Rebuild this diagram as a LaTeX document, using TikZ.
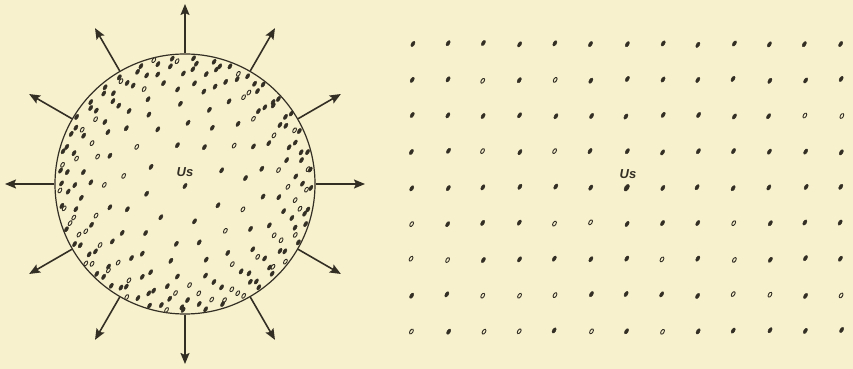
\documentclass[tikz,border=0pt]{standalone}
\usepackage{fontspec}
\setsansfont{Liberation Sans}
\usetikzlibrary{arrows.meta,calc}
\definecolor{bg}{RGB}{247,241,206}
\definecolor{ink}{RGB}{52,47,36}
\tikzset{
  dotfill/.style={fill=ink,draw=ink,line width=0.4pt},
  dothollow/.style={draw=ink,line width=0.9pt,fill=bg},
  rayarrow/.style={-{Stealth[length=11pt,width=9pt,inset=2pt]},line width=1.6pt,draw=ink},
  rim/.style={circle,draw=ink,line width=1.2pt,inner sep=0pt,minimum size=260pt},
  uslabel/.style={font=\sffamily\itshape\bfseries\fontsize{13}{13}\selectfont,text=ink,inner sep=0pt}
}
\newcommand{\inkdot}[3]{% x, y, hollow flag
  \ifnum#3=1
    \draw[dothollow,rotate around={58:(#1,#2)}] (#1,#2) ellipse (2.7pt and 1.5pt);
  \else
    \fill[dotfill,rotate around={58:(#1,#2)}] (#1,#2) ellipse (3.0pt and 1.6pt);
  \fi}
\begin{document}
\begin{tikzpicture}[x=1pt,y=1pt]
\fill[bg] (0,0) rectangle (853,369);
\useasboundingbox (0,0) rectangle (853,369);
% ---------- left: sphere ----------
\coordinate (C) at (185,185);
\node[rim] (disk) at (C) {};
\foreach \a in {0,30,...,330}{
  \coordinate (tip\a) at ($(C)+(\a:180pt)$);
  \draw[rayarrow] (disk.\a) -- (tip\a);
}
\pgfmathsetseed{4321}
\foreach \r/\n in {40/8,62/13,80/17,93/21,103/25,111/29,117/33,122/37,126/41}{
  \pgfmathsetmacro\off{rnd*360}
  \foreach \k in {1,...,\n}{
    \pgfmathsetmacro\ang{\off+\k*360/\n+(rnd-0.5)*120/\n}
    \pgfmathsetmacro\rr{\r+(rnd-0.5)*4}
    \pgfmathsetmacro\px{185+\rr*cos(\ang)}
    \pgfmathsetmacro\py{185+\rr*sin(\ang)}
    \pgfmathtruncatemacro\hol{rnd<0.3}
    \inkdot{\px}{\py}{\hol}
  }
}
\inkdot{185}{183}{0}
\node[uslabel] (usL) at (185,197) {Us};
% ---------- right: uniform grid ----------
\foreach \j in {0,...,8}{
  \foreach \i in {0,...,12}{
    \pgfmathsetmacro\px{412+35.75*\i+(rnd-0.5)*2}
    \pgfmathsetmacro\py{325-35.85*\j+(rnd-0.5)*2}
    \pgfmathtruncatemacro\hol{rnd<(0.06+0.04*\j)}
    \ifnum\i=6 \ifnum\j=4 \def\hol{2}\fi\fi
    \ifnum\hol=2
      \fill[dotfill,rotate around={58:(\px,\py)}] (\px,\py) ellipse (3.8pt and 2.1pt);
    \else
      \inkdot{\px}{\py}{\hol}
    \fi
  }
}
\node[uslabel] (usR) at (628,195) {Us};
\end{tikzpicture}
\end{document}
